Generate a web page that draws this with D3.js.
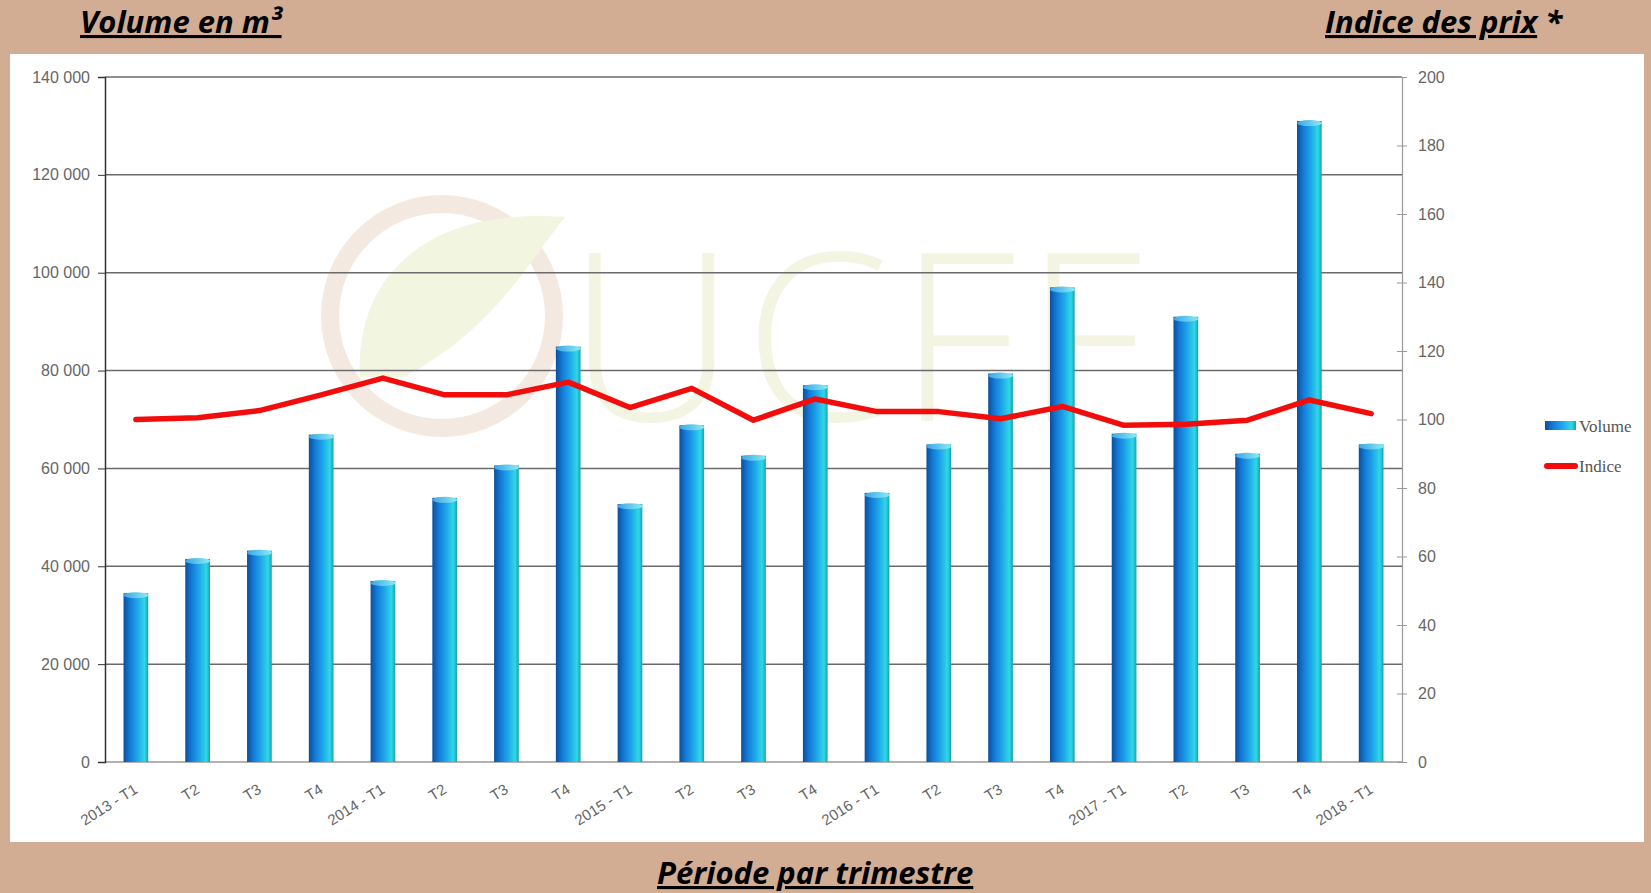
<!DOCTYPE html>
<html lang="fr">
<head>
<meta charset="utf-8">
<title>Volume et indice des prix</title>
<script src="https://cdn.jsdelivr.net/npm/d3@7"></script>
<style>
  html, body { margin: 0; padding: 0; background: #d2ac93; }
  svg { display: block; }
  .tick text { fill: #666; font-family: "Liberation Sans", Arial, sans-serif; }
  .title { font-family: "Open Sans", Lato, sans-serif; font-weight: bold; font-style: italic; fill: #000; }
</style>
</head>
<body>
<div id="chart"></div>
<script>
// periods (quarters)
var periods = ["2013 - T1","T2","T3","T4","2014 - T1","T2","T3","T4","2015 - T1","T2","T3","T4",
               "2016 - T1","T2","T3","T4","2017 - T1","T2","T3","T4","2018 - T1"];
// volume in m3 (left axis)
var volume = [34500, 41500, 43200, 66900, 37000, 54000, 60600, 84900, 52700, 68800, 62600, 77000,
              55000, 64900, 79400, 97000, 67100, 91000, 63000, 131000, 64900];
// price index (right axis)
var indice = [100, 100.5, 102.6, 107.2, 112.1, 107.2, 107.2, 110.9, 103.5, 109.1, 99.8, 106,
              102.3, 102.3, 100.2, 103.8, 98.3, 98.6, 99.8, 105.7, 101.7];
var leftTicks = [0, 20000, 40000, 60000, 80000, 100000, 120000, 140000];
var rightTicks = [0, 20, 40, 60, 80, 100, 120, 140, 160, 180, 200];

var W = 1651, H = 893;
var margin = {top: 77, left: 105, right: 249, bottom: 131};
var width = W - margin.left - margin.right,
    height = H - margin.top - margin.bottom;

var svg = d3.select("#chart").append("svg")
    .attr("width", W).attr("height", H);

// white panel
svg.append("rect").attr("x", 10).attr("y", 54).attr("width", 1634).attr("height", 788)
    .attr("fill", "#fff");

var defs = svg.append("defs");
var grad = defs.append("linearGradient").attr("id", "barGrad")
    .attr("x1", "0%").attr("x2", "100%").attr("y1", "0%").attr("y2", "0%");
grad.append("stop").attr("offset", "0%").attr("stop-color", "#0a4f9c");
grad.append("stop").attr("offset", "25%").attr("stop-color", "#1479d6");
grad.append("stop").attr("offset", "55%").attr("stop-color", "#1ea4ea");
grad.append("stop").attr("offset", "85%").attr("stop-color", "#2ed8e6");
grad.append("stop").attr("offset", "100%").attr("stop-color", "#1b9fb0");
var capGrad = defs.append("linearGradient").attr("id", "capGrad")
    .attr("x1", "0%").attr("x2", "100%");
capGrad.append("stop").attr("offset", "0%").attr("stop-color", "#3aa6e6");
capGrad.append("stop").attr("offset", "100%").attr("stop-color", "#8ceaf4");

var g = svg.append("g").attr("transform", "translate(" + margin.left + "," + margin.top + ")");

// faint UCFF watermark
var wm = g.append("g").attr("opacity", 0.6);
wm.append("circle").attr("cx", 337).attr("cy", 239).attr("r", 112)
    .attr("fill", "none").attr("stroke", "#ecdccd").attr("stroke-width", 18);
wm.append("path")
    .attr("d", "M255,300 C250,200 320,130 460,140 C420,190 390,250 300,300 Z")
    .attr("fill", "#ebefcc");
wm.append("text").attr("x", 462).attr("y", 344)
    .attr("font-family", "'Open Sans', sans-serif").attr("font-weight", 300)
    .attr("font-size", 235).attr("letter-spacing", 8)
    .attr("fill", "#ecf0d0").text("UCFF");

var x = d3.scaleBand().domain(d3.range(periods.length)).range([0, width]).padding(0);
var yL = d3.scaleLinear().domain([0, 140000]).range([height, 0]);
var yR = d3.scaleLinear().domain([0, 200]).range([height, 0]);

// grid lines
g.append("g").selectAll("line").data(leftTicks).join("line")
    .attr("x1", 0).attr("x2", width)
    .attr("y1", function(d) { return yL(d); }).attr("y2", function(d) { return yL(d); })
    .attr("stroke", function(d) { return d === 0 ? "#999" : "#6b6b6b"; })
    .attr("stroke-width", 1.5);

// left axis
var fmt = function(d) { return d3.format(",")(d).replace(/,/g, " "); };
var axL = g.append("g").call(d3.axisLeft(yL).tickValues(leftTicks).tickFormat(fmt).tickSize(7).tickPadding(8));
axL.select(".domain").attr("stroke", "#333").attr("stroke-width", 1.5);
axL.selectAll(".tick line").attr("stroke", "#333");
axL.selectAll(".tick text").attr("font-size", 16);

// right axis
var axR = g.append("g").attr("transform", "translate(" + width + ",0)")
    .call(d3.axisRight(yR).tickValues(rightTicks).tickSize(5).tickPadding(11));
axR.select(".domain").attr("stroke", "#999").attr("stroke-width", 1.2);
axR.selectAll(".tick line").attr("x1", -5).attr("stroke", "#999");
axR.selectAll(".tick text").attr("font-size", 16);

// bars
var bw = x.bandwidth() * 0.4;
var bars = g.append("g").selectAll("g").data(volume).join("g");
bars.append("rect")
    .attr("x", function(d, i) { return x(i) + (x.bandwidth() - bw) / 2; })
    .attr("y", function(d) { return yL(d); })
    .attr("width", bw)
    .attr("height", function(d) { return height - yL(d); })
    .attr("fill", "url(#barGrad)");
bars.append("ellipse")
    .attr("cx", function(d, i) { return x(i) + x.bandwidth() / 2; })
    .attr("cy", function(d) { return yL(d) + 2; })
    .attr("rx", bw / 2).attr("ry", 3)
    .attr("fill", "url(#capGrad)");

// x axis labels
var axB = g.append("g").attr("transform", "translate(0," + height + ")")
    .call(d3.axisBottom(x).tickFormat(function(i) { return periods[i]; }).tickSize(0).tickPadding(0));
axB.select(".domain").remove();
axB.selectAll(".tick text")
    .attr("font-size", 15)
    .attr("fill", "#555")
    .attr("text-anchor", "end")
    .attr("dy", "0")
    .attr("transform", "translate(3,30) rotate(-32)");

// index line
var line = d3.line()
    .x(function(d, i) { return x(i) + x.bandwidth() / 2; })
    .y(function(d) { return yR(d); });
g.append("path").datum(indice)
    .attr("d", line)
    .attr("fill", "none")
    .attr("stroke", "#f20d0d")
    .attr("stroke-width", 5.5)
    .attr("stroke-linecap", "round")
    .attr("stroke-linejoin", "round");

// legend
var leg = svg.append("g").attr("transform", "translate(1545,0)");
leg.append("rect").attr("x", 0).attr("y", 421).attr("width", 31).attr("height", 9)
    .attr("fill", "url(#barGrad)");
leg.append("text").attr("x", 34).attr("y", 432).text("Volume")
    .attr("font-family", "'Liberation Serif', serif").attr("font-size", 17).attr("fill", "#555");
leg.append("line").attr("x1", 2).attr("x2", 30).attr("y1", 466).attr("y2", 466)
    .attr("stroke", "#f20d0d").attr("stroke-width", 6).attr("stroke-linecap", "round");
leg.append("text").attr("x", 34).attr("y", 472).text("Indice")
    .attr("font-family", "'Liberation Serif', serif").attr("font-size", 17).attr("fill", "#555");

// titles
svg.append("text").attr("class", "title").attr("x", 80).attr("y", 33).attr("font-size", 31)
    .attr("text-decoration", "underline").text("Volume en m³");
var t2 = svg.append("text").attr("class", "title").attr("x", 1325).attr("y", 33).attr("font-size", 31);
t2.append("tspan").attr("text-decoration", "underline").text("Indice des prix");
t2.append("tspan").text(" *");
svg.append("text").attr("class", "title").attr("x", 657).attr("y", 884).attr("font-size", 31)
    .attr("text-decoration", "underline").text("Période par trimestre");
</script>
</body>
</html>
